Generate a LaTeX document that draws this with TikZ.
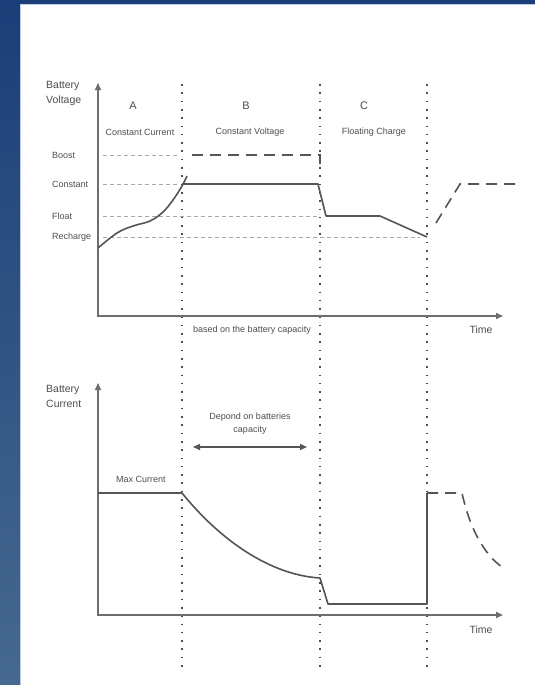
\documentclass[tikz,border=0pt]{standalone}
\usepackage{fontspec}
\setmainfont{Liberation Sans}
\usetikzlibrary{arrows.meta}
\definecolor{bluetop}{HTML}{1C3E78}
\definecolor{bluebot}{HTML}{46698F}
\definecolor{ink}{HTML}{555555}
\definecolor{axisgray}{HTML}{6E6E6E}
\definecolor{txt}{HTML}{4E4E4E}
\definecolor{guide}{HTML}{A8A8A8}
\definecolor{edge}{HTML}{B9CCE0}
\begin{document}
\begin{tikzpicture}[x=1pt,y=-1pt,
 axis/.style={draw=axisgray, line width=1.6pt, {Triangle[length=7pt,width=6pt]}-{Triangle[length=7pt,width=6pt]}},
 curve/.style={draw=ink, line width=1.6pt, line join=round},
 dashcurve/.style={draw=ink, line width=1.6pt, dash pattern=on 11pt off 7pt},
 guideline/.style={draw=guide, line width=0.9pt, dash pattern=on 3.5pt off 3.5pt},
 phase/.style={draw=ink!90!black, line width=2.4pt, dash pattern=on 1.6pt off 6.7pt},
 small/.style={font=\fontsize{9}{10}\selectfont, text=txt, inner sep=0pt},
 big/.style={font=\fontsize{10.5}{15}\selectfont, text=txt, inner sep=0pt, align=left},
 letter/.style={font=\fontsize{11}{12}\selectfont, text=txt, inner sep=0pt},
]
\useasboundingbox (0,0) rectangle (535,685);
% background frame
\shade[top color=bluetop, bottom color=bluebot] (0,0) rectangle (535,685);
\fill[bluetop] (0,0) rectangle (535,5);
\fill[white] (20,5) rectangle (535,685);
\draw[edge, line width=1pt] (20,685) -- (20,5) -- (535,5);

% ---------- upper chart ----------
\draw[guideline] (103,155) -- (180,155);
\draw[guideline] (103,184) -- (180,184);
\draw[guideline] (103,216) -- (318,216);
\draw[guideline] (103,237) -- (420,237);

\draw[phase] (182,84) -- (182,672);
\draw[phase] (320,84) -- (320,672);
\draw[phase] (427,84) -- (427,672);

\draw[axis] (98,83) -- (98,316) -- (503,316);

\node[big, anchor=west] (vlab) at (46,93) {Battery\\Voltage};
\node[letter] (la) at (133,106) {A};
\node[letter] (lb) at (246,106) {B};
\node[letter] (lc) at (364,106) {C};
\node[small] (cc) at (140,132) {Constant Current};
\node[small] (cv) at (250,132) {Constant Voltage};
\node[small] (fc) at (374,132) {Floating Charge};
\node[small, anchor=west] (boost) at (52,155) {Boost};
\node[small, anchor=west] (const) at (52,184) {Constant};
\node[small, anchor=west] (float) at (52,216) {Float};
\node[small, anchor=west] (rech) at (52,237) {Recharge};
\node[small] (based) at (252,330) {based on the battery capacity};
\node[big] (time1) at (481,330) {Time};

\draw[curve] plot[smooth, tension=0.6] coordinates {(98,248) (117,233) (133,226) (150,221) (163,212) (173,200) (182,186) (187,176)};
\draw[curve] (182,184) -- (318,184) -- (320,192) -- (326,216) -- (380,216) -- (427,237);
\draw[dashcurve] (192,155) -- (320,155) -- (320,165);
\draw[dashcurve] (436,223) -- (460,184) -- (515,184);

% ---------- lower chart ----------
\draw[axis] (98,383) -- (98,615) -- (503,615);

\node[big, anchor=west] (clab) at (46,396) {Battery\\Current};
\node[small, align=center, font=\fontsize{9}{13}\selectfont] (dep) at (250,424) {Depond on batteries\\capacity};
\coordinate (dl) at (193,447);
\coordinate (dr) at (307,447);
\draw[draw=ink, line width=1.4pt, {Triangle[length=7pt,width=6pt]}-{Triangle[length=7pt,width=6pt]}] (dl) -- (dr);
\node[small] (maxc) at (141,479) {Max Current};
\node[big] (time2) at (481,630) {Time};

\draw[curve] (98,493) -- (182,493) .. controls (220,540) and (270,575) .. (320,578) -- (328,604) -- (427,604) -- (427,493);
\draw[dashcurve] (427,493) -- (462,493) .. controls (470,530) and (485,555) .. (502,567);
\end{tikzpicture}
\end{document}
